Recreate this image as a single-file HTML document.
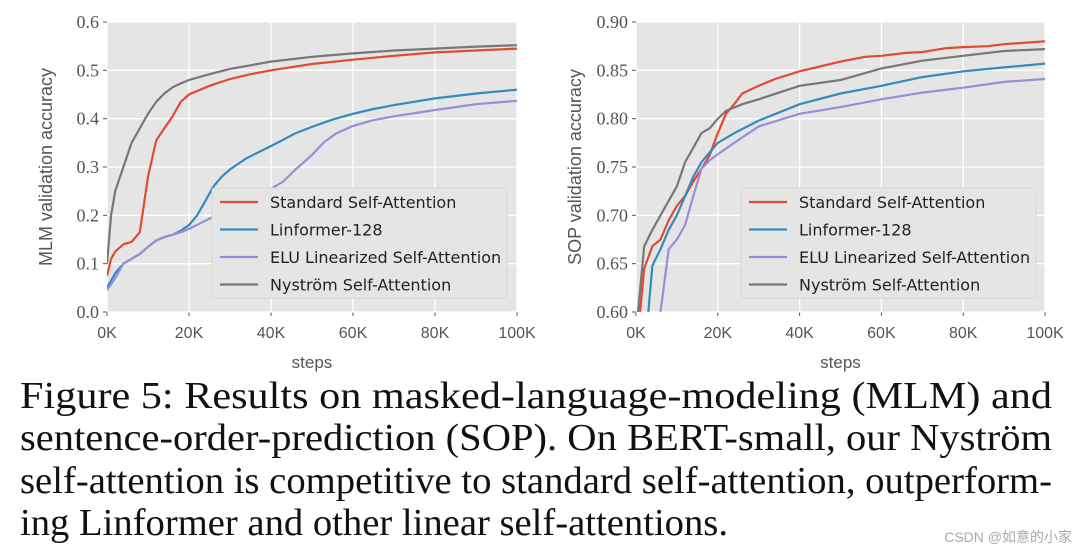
<!DOCTYPE html>
<html><head><meta charset="utf-8"><style>
html,body{margin:0;padding:0;background:#fff;}
svg{display:block;}
</style></head><body>
<svg id="fig" width="1080" height="557" viewBox="0 0 1080 557" xmlns="http://www.w3.org/2000/svg">
<g id="left"></g>
<g id="right"></g>
<g font-family="Liberation Serif, serif" font-size="38" fill="#111">
<text x="20" y="408" textLength="1032" lengthAdjust="spacingAndGlyphs">Figure 5: Results on masked-language-modeling (MLM) and</text>
<text x="20" y="450" textLength="1032" lengthAdjust="spacingAndGlyphs">sentence-order-prediction (SOP). On BERT-small, our Nyström</text>
<text x="20" y="493" textLength="1032" lengthAdjust="spacingAndGlyphs">self-attention is competitive to standard self-attention, outperform-</text>
<text x="20" y="535" textLength="708" lengthAdjust="spacingAndGlyphs">ing Linformer and other linear self-attentions.</text>
</g>
<text x="1072" y="542" text-anchor="end" font-family="Liberation Sans, Noto Sans CJK SC, sans-serif" font-size="14" fill="#aaa">CSDN @如意的小家</text>
</svg>
<script>
// MLM data
const mlmStdX=[0,1,2,4,6,8,10,12,14,16,18,20,25,30,35,40,50,60,70,80,90,100];
const mlmStdY=[0.075,0.11,0.125,0.14,0.145,0.165,0.28,0.355,0.38,0.405,0.435,0.45,0.468,0.482,0.492,0.5,0.513,0.522,0.53,0.537,0.541,0.545];
const mlmLinX=[0,2,4,6,8,10,12,14,16,18,20,22,24,26,28,30,34,38,42,46,50,55,60,65,70,80,90,100];
const mlmLinY=[0.05,0.08,0.1,0.11,0.12,0.135,0.148,0.155,0.16,0.168,0.18,0.2,0.23,0.26,0.28,0.295,0.318,0.335,0.352,0.37,0.383,0.398,0.41,0.42,0.428,0.442,0.452,0.46];
const mlmEluX=[0,2,4,6,8,10,12,14,16,18,20,25,30,35,40,43,46,50,53,56,60,65,70,80,90,100];
const mlmEluY=[0.045,0.07,0.1,0.11,0.12,0.135,0.148,0.155,0.16,0.165,0.172,0.193,0.213,0.232,0.255,0.27,0.295,0.325,0.352,0.37,0.385,0.397,0.405,0.418,0.43,0.437];
const mlmNysX=[0,1,2,4,6,8,10,12,14,16,18,20,25,30,40,50,60,70,80,90,100];
const mlmNysY=[0.1,0.2,0.25,0.3,0.35,0.38,0.41,0.435,0.452,0.465,0.473,0.48,0.492,0.503,0.518,0.528,0.535,0.541,0.545,0.549,0.552];
// SOP data
const sopStdX=[1,2,4,6,8,10,12,14,16,18,20,22,24,26,30,34,40,46,50,56,60,66,70,76,80,86,90,100];
const sopStdY=[0.6,0.645,0.668,0.675,0.695,0.71,0.72,0.735,0.748,0.762,0.785,0.805,0.815,0.826,0.834,0.841,0.849,0.855,0.859,0.864,0.865,0.868,0.869,0.873,0.874,0.875,0.877,0.88];
const sopLinX=[3,4,6,8,10,12,14,16,18,20,24,30,40,50,60,70,80,90,100];
const sopLinY=[0.6,0.648,0.665,0.685,0.7,0.72,0.74,0.755,0.765,0.775,0.785,0.798,0.815,0.826,0.834,0.843,0.849,0.853,0.857];
const sopEluX=[6,8,10,12,14,16,18,20,24,30,40,50,60,70,80,90,100];
const sopEluY=[0.6,0.665,0.675,0.69,0.72,0.748,0.757,0.763,0.775,0.792,0.805,0.812,0.82,0.827,0.832,0.838,0.841];
const sopNysX=[0.5,2,4,6,8,10,12,14,16,18,20,22,26,30,40,50,60,70,80,90,100];
const sopNysY=[0.6,0.668,0.685,0.7,0.715,0.73,0.755,0.77,0.785,0.79,0.8,0.808,0.815,0.82,0.834,0.84,0.852,0.86,0.865,0.87,0.872];
const xTicks=[0,20,40,60,80,100];
const xTickLabels=["0K","20K","40K","60K","80K","100K"];
const mlmYTicks=[0,0.1,0.2,0.3,0.4,0.5,0.6];
const mlmYLabels=["0.0","0.1","0.2","0.3","0.4","0.5","0.6"];
const sopYTicks=[0.6,0.65,0.7,0.75,0.8,0.85,0.9];
const sopYLabels=["0.60","0.65","0.70","0.75","0.80","0.85","0.90"];
const seriesNames=["Standard Self-Attention","Linformer-128","ELU Linearized Self-Attention","Nyström Self-Attention"];
const colors=["#e24a33","#348abd","#988ed5","#777777"];
const NS="http://www.w3.org/2000/svg";
function mk(tag,attrs,parent){const e=document.createElementNS(NS,tag);for(const k in attrs)e.setAttribute(k,attrs[k]);parent.appendChild(e);return e;}
function chart(g,L,R,T,B,ymin,ymax,yt,yl,ylabel,series,legX){
  const sx=v=>L+(v-0)/(100-0)*(R-L);
  const sy=v=>B-(v-ymin)/(ymax-ymin)*(B-T);
  const bg=mk('rect',{x:L,y:T,width:R-L,height:B-T,fill:'#e5e5e5'},g);
  
  
  xTicks.forEach((t,i)=>{
    const l=mk('line',{x1:sx(t),x2:sx(t),y1:T,y2:B,stroke:'#fff','stroke-width':1.3},g);
    
    
    mk('line',{x1:sx(t),x2:sx(t),y1:B,y2:B+4,stroke:'#555'},g);
    const tx=mk('text',{x:sx(t),y:B+26,'text-anchor':'middle','font-family':'Liberation Sans, sans-serif','font-size':16,fill:'#555'},g);
    tx.textContent=xTickLabels[i];
    
    
  });
  yt.forEach((t,i)=>{
    const l=mk('line',{x1:L,x2:R,y1:sy(t),y2:sy(t),stroke:'#fff','stroke-width':1.3},g);
    
    
    mk('line',{x1:L-4,x2:L,y1:sy(t),y2:sy(t),stroke:'#555'},g);
    const tx=mk('text',{x:L-8,y:sy(t)+6,'text-anchor':'end','font-family':'Liberation Serif, serif','font-size':18,fill:'#555'},g);
    tx.textContent=yl[i];
    
    
  });
  const cp=mk('clipPath',{id:'c'+L},g);
  mk('rect',{x:L,y:T,width:R-L,height:B-T},cp);
  series.forEach((s,i)=>{
    const d=s[0].map((x,j)=>(j?'L':'M')+sx(x).toFixed(1)+','+sy(s[1][j]).toFixed(1)).join(' ');
    const p=mk('path',{d:d,fill:'none',stroke:colors[i],'stroke-width':2.2,'clip-path':'url(#c'+L+')'},g);
    
    
  });
  const lg=mk('g',{},g);
  
  
  mk('rect',{x:legX,y:188,width:295,height:110,rx:3,fill:'#e5e5e5',stroke:'#d8d8d8'},lg);
  seriesNames.forEach((n,i)=>{
    const y=202+i*27.5;
    mk('line',{x1:legX+8,x2:legX+46,y1:y,y2:y,stroke:colors[i],'stroke-width':2.2},lg);
    const tx=mk('text',{x:legX+58,y:y+6,'font-family':'DejaVu Sans, sans-serif','font-size':16,fill:'#222'},lg);
    tx.textContent=n;
    
    
  });
  const xl=mk('text',{x:(L+R)/2,y:B+56,'text-anchor':'middle','font-family':'Liberation Sans, sans-serif','font-size':17,fill:'#555'},g);
  xl.textContent='steps';
  
  
  const cx=L-55,cy=(T+B)/2;
  const yla=mk('text',{x:cx,y:cy,'text-anchor':'middle','font-family':'Liberation Sans, sans-serif','font-size':18,fill:'#555',transform:'rotate(-90 '+cx+' '+cy+')'},g);
  yla.textContent=ylabel;
  
  
}
chart(document.getElementById('left'),107,517,22,312,0,0.6,mlmYTicks,mlmYLabels,'MLM validation accuracy',
 [[mlmStdX,mlmStdY],[mlmLinX,mlmLinY],[mlmEluX,mlmEluY],[mlmNysX,mlmNysY]],212);
chart(document.getElementById('right'),636,1045,22,312,0.6,0.9,sopYTicks,sopYLabels,'SOP validation accuracy',
 [[sopStdX,sopStdY],[sopLinX,sopLinY],[sopEluX,sopEluY],[sopNysX,sopNysY]],741);
</script>
</body></html>
